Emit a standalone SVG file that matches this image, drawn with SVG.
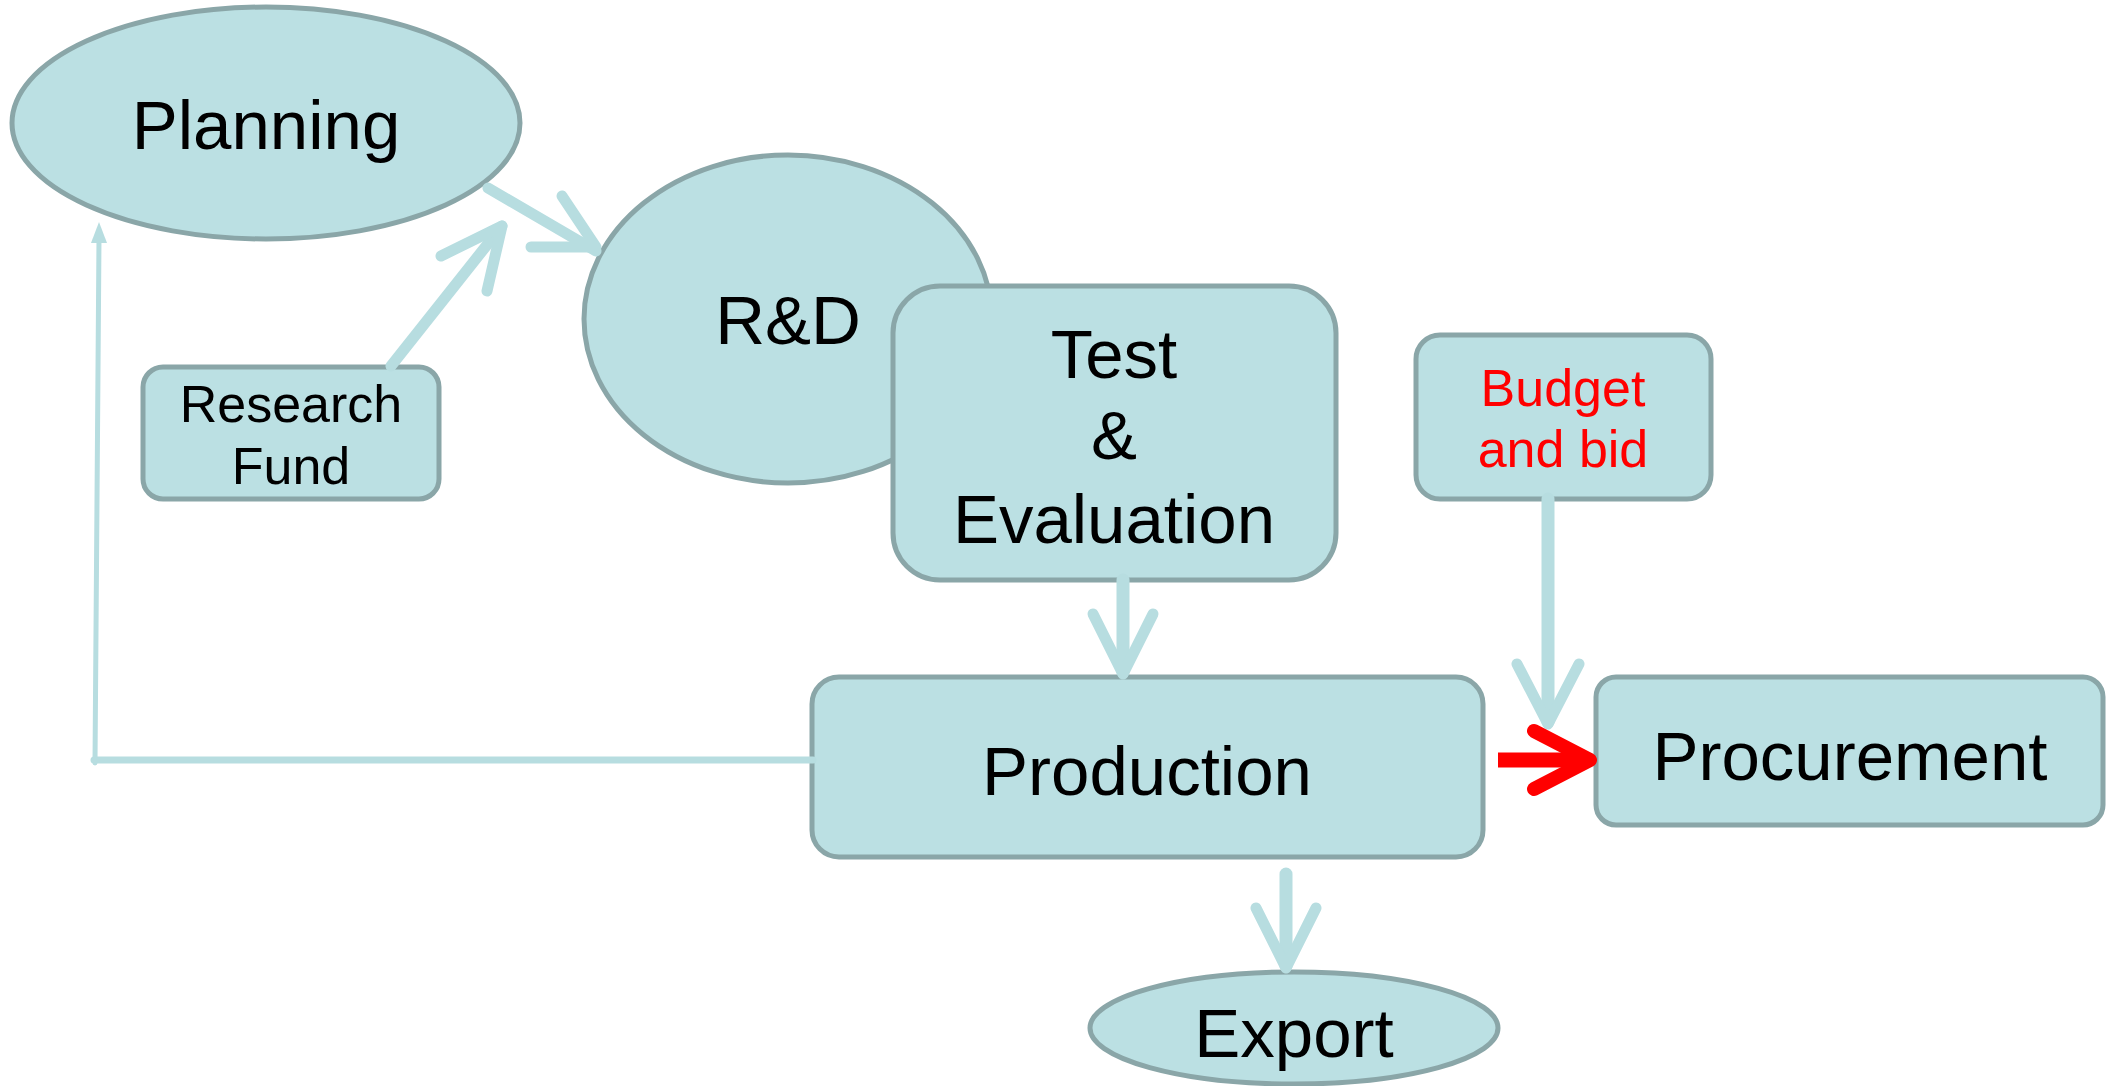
<svg xmlns="http://www.w3.org/2000/svg" width="2116" height="1086" viewBox="0 0 2116 1086">
<style>
.n{fill:#bbe0e3;stroke:#8aa6a8;stroke-width:5}
.t{font-family:"Liberation Sans",Arial,sans-serif;font-size:69px;fill:#000;text-anchor:middle}
.s{font-size:52px}
.r{fill:#ff0000}
.c{fill:none;stroke:#b7dde0;stroke-linecap:round;stroke-linejoin:round}
</style>
<rect width="2116" height="1086" fill="#fff"/>
<g id="planning"><ellipse class="n" cx="266" cy="123" rx="254" ry="116"/><text class="t" x="266" y="149">Planning</text></g>
<g id="rnd"><ellipse class="n" cx="788" cy="319" rx="204" ry="164"/><text class="t" x="788" y="344">R&amp;D</text></g>
<g id="test"><rect class="n" x="893" y="286" width="443" height="294" rx="47"/><text class="t" x="1114" y="378">Test</text><text class="t" x="1114" y="459">&amp;</text><text class="t" x="1114" y="543">Evaluation</text></g>
<g id="fund"><rect class="n" x="143" y="367" width="296" height="132" rx="20"/><text class="t s" x="291" y="422">Research</text><text class="t s" x="291" y="484">Fund</text></g>
<g id="budget"><rect class="n" x="1416" y="335" width="295" height="164" rx="24"/><text class="t s r" x="1563" y="406">Budget</text><text class="t s r" x="1563" y="467">and bid</text></g>
<g id="production"><rect class="n" x="812" y="677" width="671" height="180" rx="27"/><text class="t" x="1147" y="795">Production</text></g>
<g id="procurement"><rect class="n" x="1596" y="677" width="507" height="148" rx="20"/><text class="t" x="1850" y="780">Procurement</text></g>
<g id="export"><ellipse class="n" cx="1294" cy="1028" rx="204" ry="56"/><text class="t" x="1294" y="1057">Export</text></g>
<g id="connectors">
<path class="c" stroke-width="11" stroke-linecap="butt" d="M488 188 L596 251"/>
<path class="c" stroke-width="11" d="M531 247 L596 247 L562 196"/>
<path class="c" stroke-width="11" stroke-linecap="butt" d="M391 366 L502 226"/>
<path class="c" stroke-width="11" d="M441 256 L502 226 L487 291"/>
<path class="c" stroke-width="7" stroke-linecap="butt" d="M813 760 L94 760"/>
<path class="c" stroke-width="5" stroke-linecap="butt" d="M95 763 L99 238"/>
<path fill="#b7dde0" d="M99 222 L91 243 L107 243 Z"/>
<path class="c" stroke-width="13" stroke-linecap="butt" d="M1123 580 L1123 672"/>
<path class="c" stroke-width="11" d="M1093 614 L1123 674 L1153 614"/>
<path class="c" stroke-width="13" stroke-linecap="butt" d="M1548 499 L1548 722"/>
<path class="c" stroke-width="11" d="M1517 664 L1548 724 L1579 664"/>
<path class="c" stroke-width="13" stroke-linecap="butt" d="M1286 874 L1286 966"/>
<path class="c" stroke-width="11" d="M1256 908 L1286 968 L1316 908"/>
<path fill="none" stroke="#ff0000" stroke-width="15" d="M1498 760 L1588 760"/>
<path fill="none" stroke="#ff0000" stroke-width="14" stroke-linecap="round" stroke-linejoin="round" d="M1534 731 L1590 760 L1534 789"/>
</g>
</svg>
